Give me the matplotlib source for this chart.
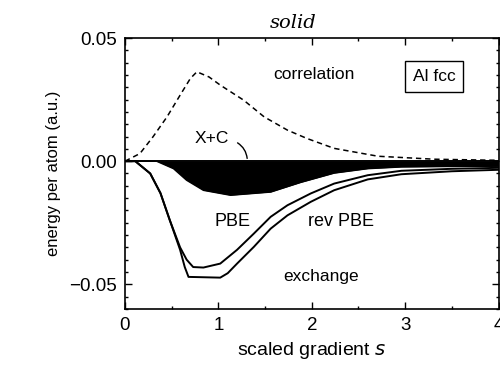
import matplotlib
import matplotlib.pyplot as plt
from matplotlib.ticker import MultipleLocator

matplotlib.use("Agg")

# correlation energy (dashed)
s_corr = [0.0, 0.16, 0.30, 0.45, 0.59, 0.70, 0.77, 0.90, 1.02, 1.27, 1.49, 1.74,
          1.95, 2.24, 2.71, 3.31, 3.92, 4.0]
e_corr = [0.0, 0.0031, 0.0099, 0.018, 0.0268, 0.0336, 0.0363, 0.0342, 0.0309,
          0.0248, 0.018, 0.0126, 0.0092, 0.0052, 0.0020, 0.0008, 0.0004, 0.0004]

# exchange, PBE
s_pbe = [0.0, 0.11, 0.27, 0.38, 0.48, 0.59, 0.66, 0.73, 0.84, 1.02, 1.2, 1.38,
         1.56, 1.74, 1.99, 2.24, 2.6, 2.96, 3.5, 4.0]
e_pbe = [0.0, 0.0, -0.005, -0.013, -0.024, -0.035, -0.040, -0.043, -0.0432,
         -0.0416, -0.036, -0.0294, -0.0226, -0.0179, -0.0131, -0.0091, -0.0057,
         -0.0039, -0.0031, -0.0027]

# exchange, revPBE
s_rev = [0.0, 0.11, 0.27, 0.38, 0.48, 0.59, 0.64, 0.68, 1.02, 1.1, 1.2, 1.38,
         1.56, 1.74, 1.99, 2.24, 2.6, 2.96, 3.5, 4.0]
e_rev = [0.0, 0.0, -0.005, -0.013, -0.024, -0.036, -0.043, -0.047, -0.0473,
         -0.0455, -0.0416, -0.0348, -0.0274, -0.022, -0.0165, -0.0118, -0.0074,
         -0.0053, -0.0041, -0.0035]

# exchange + correlation (filled)
s_xc = [0.0, 0.34, 0.52, 0.66, 0.84, 1.13, 1.56, 1.88, 2.24, 2.6, 2.96, 3.5, 4.0]
e_xc = [0.0, 0.0, -0.0030, -0.0077, -0.0118, -0.0138, -0.0125, -0.0086, -0.0048,
        -0.0030, -0.0023, -0.0021, -0.0020]

plt.rcParams["font.family"] = ["Liberation Sans", "DejaVu Sans"]

fig = plt.figure(figsize=(5.0, 3.66), dpi=100)
ax = fig.add_axes([0.25, 0.156, 0.747, 0.740])

ax.fill_between(s_xc, e_xc, 0, color="black", lw=0)
ax.plot(s_xc, e_xc, color="black", lw=1.2)
ax.axhline(0, color="black", lw=1.4)
ax.plot(s_corr, e_corr, color="black", lw=1.1, ls=(0, (3.5, 2.5)))
ax.plot(s_pbe, e_pbe, color="black", lw=1.4)
ax.plot(s_rev, e_rev, color="black", lw=1.4)

ax.set_xlim(0, 4)
ax.set_ylim(-0.06, 0.05)
ax.set_xticks([0, 1, 2, 3, 4])
ax.set_xticklabels(["0", "1", "2", "3", "4"])
ax.set_yticks([-0.05, 0.0, 0.05])
ax.set_yticklabels(["\u22120.05", "0.00", "0.05"])
ax.xaxis.set_minor_locator(MultipleLocator(0.5))
ax.yaxis.set_minor_locator(MultipleLocator(0.005))
ax.tick_params(which="both", direction="in", top=True, right=True,
               labelsize=13.5, width=1.0)
ax.tick_params(which="major", length=5, pad=6)
ax.tick_params(which="minor", length=2.5)
for sp in ax.spines.values():
    sp.set_linewidth(1.2)

ax.set_xlabel("scaled gradient $s$", fontsize=14, labelpad=4)
ax.set_ylabel("energy per atom (a.u.)", fontsize=12, labelpad=6)

ax.text(2.02, 0.0352, "correlation", fontsize=12.5, ha="center", va="center")
ax.text(3.31, 0.0343, "Al fcc", fontsize=12.5, ha="center", va="center",
        bbox=dict(boxstyle="square,pad=0.45", fc="white", ec="black", lw=1.0))
ax.text(0.93, 0.0092, "X+C", fontsize=12.5, ha="center", va="center")
ax.annotate("", xy=(1.31, 0.0), xytext=(1.18, 0.0080),
            arrowprops=dict(arrowstyle="-", color="black", lw=1.0,
                            connectionstyle="arc3,rad=-0.3"))
ax.text(1.15, -0.0246, "PBE", fontsize=13, ha="center", va="center")
ax.text(2.31, -0.0246, "rev PBE", fontsize=13, ha="center", va="center")
ax.text(2.1, -0.0468, "exchange", fontsize=12.5, ha="center", va="center")

fig.text(0.586, 0.937, "solid", fontsize=14, style="italic",
         family="DejaVu Serif", ha="center", va="center")

fig.savefig("out.png", dpi=100)
